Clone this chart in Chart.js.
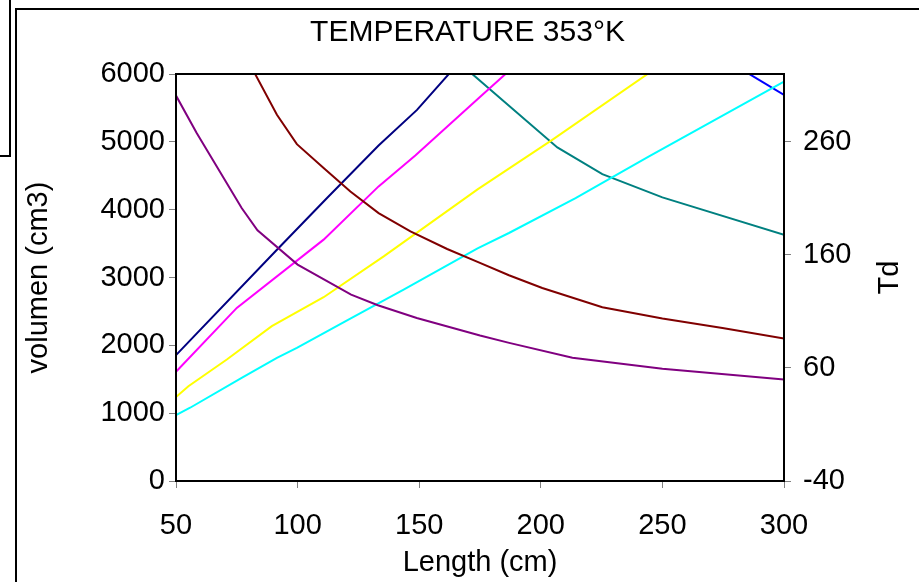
<!DOCTYPE html>
<html>
<head>
<meta charset="utf-8">
<script src="https://cdn.jsdelivr.net/npm/chart.js@4"></script>
<style>
  body { margin: 0; background: #fff; }
  #wrap { position: relative; width: 919px; height: 582px; overflow: hidden; }
  #box { position: absolute; left: 0; top: 0; width: 9px; height: 155px; border-right: 2px solid #000; border-bottom: 2px solid #000; }
  #frame { position: absolute; left: 15px; top: 8px; width: 960px; height: 620px; border-left: 2px solid #000; border-top: 2px solid #000; }
  canvas { position: absolute; left: 0; top: 0; }
</style>
</head>
<body>
<div id="wrap">
  <div id="box"></div>
  <div id="frame"></div>
  <canvas id="c" width="919" height="582"></canvas>
</div>
<script>
// values, Length (cm) against volumen (cm3)
const lenPurple = [50, 58.5, 77, 83.5, 100, 122, 133, 149, 175, 187, 213, 250, 300];
const volPurple = [5682, 5130, 4024, 3695, 3190, 2748, 2591, 2404, 2144, 2036, 1816, 1654, 1497];

const lenMaroon = [80, 91.5, 99.7, 110.7, 121.7, 133.3, 146.4, 161.5, 174, 186.9, 200.6, 225.3, 250, 274.7, 300];
const volMaroon = [6170, 5398, 4966, 4613, 4269, 3950, 3680, 3420, 3230, 3033, 2846, 2561, 2395, 2257, 2100];

const lenNavy = [50, 91.5, 112.1, 133.3, 149.1, 170];
const volNavy = [1855, 3410, 4171, 4946, 5471, 6315];

const lenMagenta = [50, 75, 110.7, 133.3, 148.4, 175.2, 190];
const volMagenta = [1610, 2552, 3558, 4343, 4799, 5668, 6145];

const lenYellow = [50, 55.1, 70.9, 89.4, 110.7, 135.4, 174, 204.7, 250];
const volYellow = [1237, 1398, 1791, 2282, 2709, 3312, 4300, 5030, 6151];

const lenCyan = [50, 55.8, 77, 91.5, 99.7, 119.6, 143.6, 174, 186.9, 214.3, 244.5, 300];
const volCyan = [972, 1080, 1521, 1816, 1963, 2355, 2822, 3430, 3656, 4171, 4784, 5888];

const lenTeal = [165, 206.8, 225.3, 250, 300];
const volTeal = [6210, 4917, 4524, 4181, 3631];

const lenBlue = [280, 300];
const volBlue = [6123, 5692];

const tdTicks = [-40, 60, 160, 260];

function pts(xs, ys) {
  let out = [];
  for (let i = 0; i < xs.length; i++) {
    out.push({x: xs[i], y: ys[i]});
  };
  return out;
};

function serie(xs, ys, color) {
  return {
    data: pts(xs, ys),
    borderColor: color,
    backgroundColor: color,
    borderWidth: 2,
    pointRadius: 0,
    showLine: true,
    tension: 0
  };
};

const plotFrame = {
  id: 'plotFrame',
  afterDatasetsDraw(chart) {
    let a = chart.chartArea;
    let ctx = chart.ctx;
    ctx.save();
    ctx.strokeStyle = '#000';
    ctx.lineWidth = 2;
    ctx.strokeRect(a.left, a.top, a.right - a.left, a.bottom - a.top);
    ctx.restore();
  }
};

// right axis title, reads bottom to top like the left one
const tdTitle = {
  id: 'tdTitle',
  afterDraw(chart) {
    let s = chart.scales.y1;
    let ctx = chart.ctx;
    ctx.save();
    ctx.translate(s.right - 29, (chart.chartArea.top + chart.chartArea.bottom) / 2);
    ctx.rotate(-Math.PI / 2);
    ctx.font = '29px "Liberation Sans", Arial, sans-serif';
    ctx.fillStyle = '#000';
    ctx.textAlign = 'center';
    ctx.textBaseline = 'middle';
    ctx.fillText('Td', 0, 0);
    ctx.restore();
  }
};

Chart.defaults.font.family = '"Liberation Sans", Arial, sans-serif';
Chart.defaults.color = '#000';

const plain = v => String(v);

new Chart(document.getElementById('c'), {
  type: 'scatter',
  data: {
    datasets: [
      serie(lenPurple, volPurple, '#800080'),
      serie(lenMaroon, volMaroon, '#800000'),
      serie(lenNavy, volNavy, '#000080'),
      serie(lenMagenta, volMagenta, '#FF00FF'),
      serie(lenYellow, volYellow, '#FFFF00'),
      serie(lenCyan, volCyan, '#00FFFF'),
      serie(lenTeal, volTeal, '#008080'),
      serie(lenBlue, volBlue, '#0000FF')
    ]
  },
  options: {
    responsive: false,
    animation: false,
    layout: { padding: { left: 16, top: 0, right: 0, bottom: 0 } },
    plugins: {
      legend: { display: false },
      tooltip: { enabled: false },
      title: {
        display: true,
        text: 'TEMPERATURE 353°K',
        font: { size: 30, weight: 'normal' },
        color: '#000',
        padding: { top: 15, bottom: 23 }
      }
    },
    scales: {
      x: {
        type: 'linear',
        min: 50,
        max: 300,
        ticks: { stepSize: 50, font: { size: 29 }, padding: 21, color: '#000', callback: plain },
        grid: { drawOnChartArea: false, drawTicks: true, tickLength: 7, color: '#808080' },
        border: { color: '#000', width: 2 },
        title: { display: true, text: 'Length (cm)', font: { size: 29 }, color: '#000', padding: { top: 0, bottom: 2 } },
        afterFit(scale) { scale.height = 101; }
      },
      y: {
        position: 'left',
        min: 0,
        max: 6000,
        ticks: { stepSize: 1000, font: { size: 29 }, padding: 4, color: '#000', callback: plain },
        grid: { drawOnChartArea: false, drawTicks: true, tickLength: 7, color: '#808080' },
        border: { color: '#000', width: 2 },
        title: { display: true, text: 'volumen (cm3)', font: { size: 29 }, color: '#000', padding: { top: 6, bottom: 0 } },
        afterFit(scale) { scale.width = 160; }
      },
      y1: {
        position: 'right',
        display: true,
        min: -40,
        max: 320,
        ticks: { font: { size: 29 }, padding: 12, color: '#000', callback: plain },
        afterBuildTicks(scale) { scale.ticks = tdTicks.map(v => ({value: v})); },
        grid: { drawOnChartArea: false, drawTicks: true, tickLength: 7, color: '#808080' },
        border: { color: '#000', width: 2 },
        afterFit(scale) { scale.width = 135; }
      }
    }
  },
  plugins: [plotFrame, tdTitle]
});
</script>
</body>
</html>
